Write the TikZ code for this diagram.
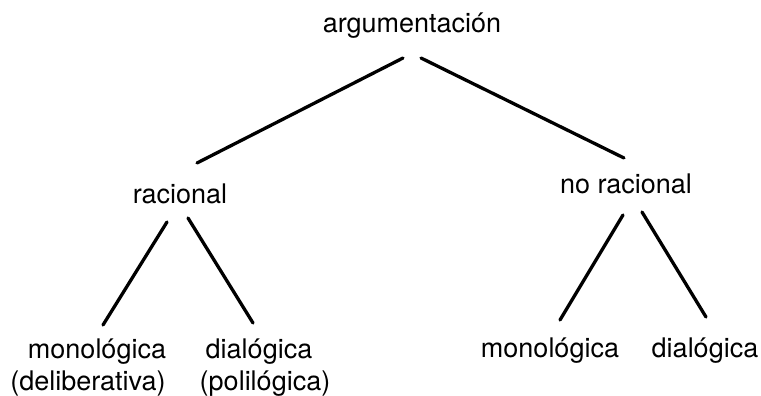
\documentclass[tikz,border=0pt]{standalone}
\usepackage{fontspec}
\setmainfont{TeX Gyre Heros}
\begin{document}
\begin{tikzpicture}[x=1pt,y=-1pt,
  lbl/.style={inner sep=0pt,anchor=base,font=\fontsize{27}{32}\selectfont},
  edge/.style={line width=3.3pt,line cap=round}]
\useasboundingbox (0,0) rectangle (761,396);
\node[lbl] (arg) at (412,33) {argumentación};
\node[lbl] (rac) at (180,203) {racional};
\node[lbl] (norac) at (626,193) {no racional};
\node[lbl] (monL) at (97,358) {monológica};
\node[lbl] (delib) at (88,390) {(deliberativa)};
\node[lbl] (dialL) at (259,358) {dialógica};
\node[lbl] (polil) at (265,390) {(polilógica)};
\node[lbl] (monR) at (550,357) {monológica};
\node[lbl] (dialR) at (705,357) {dialógica};
\draw[edge] ([shift={(-9,25)}]arg.base) -- ([shift={(17,-40)}]rac.base);
\draw[edge] ([shift={(9,25)}]arg.base) -- ([shift={(-2,-35)}]norac.base);
\draw[edge] ([shift={(-13,19)}]rac.base) -- ([shift={(6,-33)}]monL.base);
\draw[edge] ([shift={(8,15)}]rac.base) -- ([shift={(-6,-35)}]dialL.base);
\draw[edge] ([shift={(-3,22)}]norac.base) -- ([shift={(10,-37)}]monR.base);
\draw[edge] ([shift={(16,19)}]norac.base) -- ([shift={(1,-40)}]dialR.base);
\end{tikzpicture}
\end{document}
